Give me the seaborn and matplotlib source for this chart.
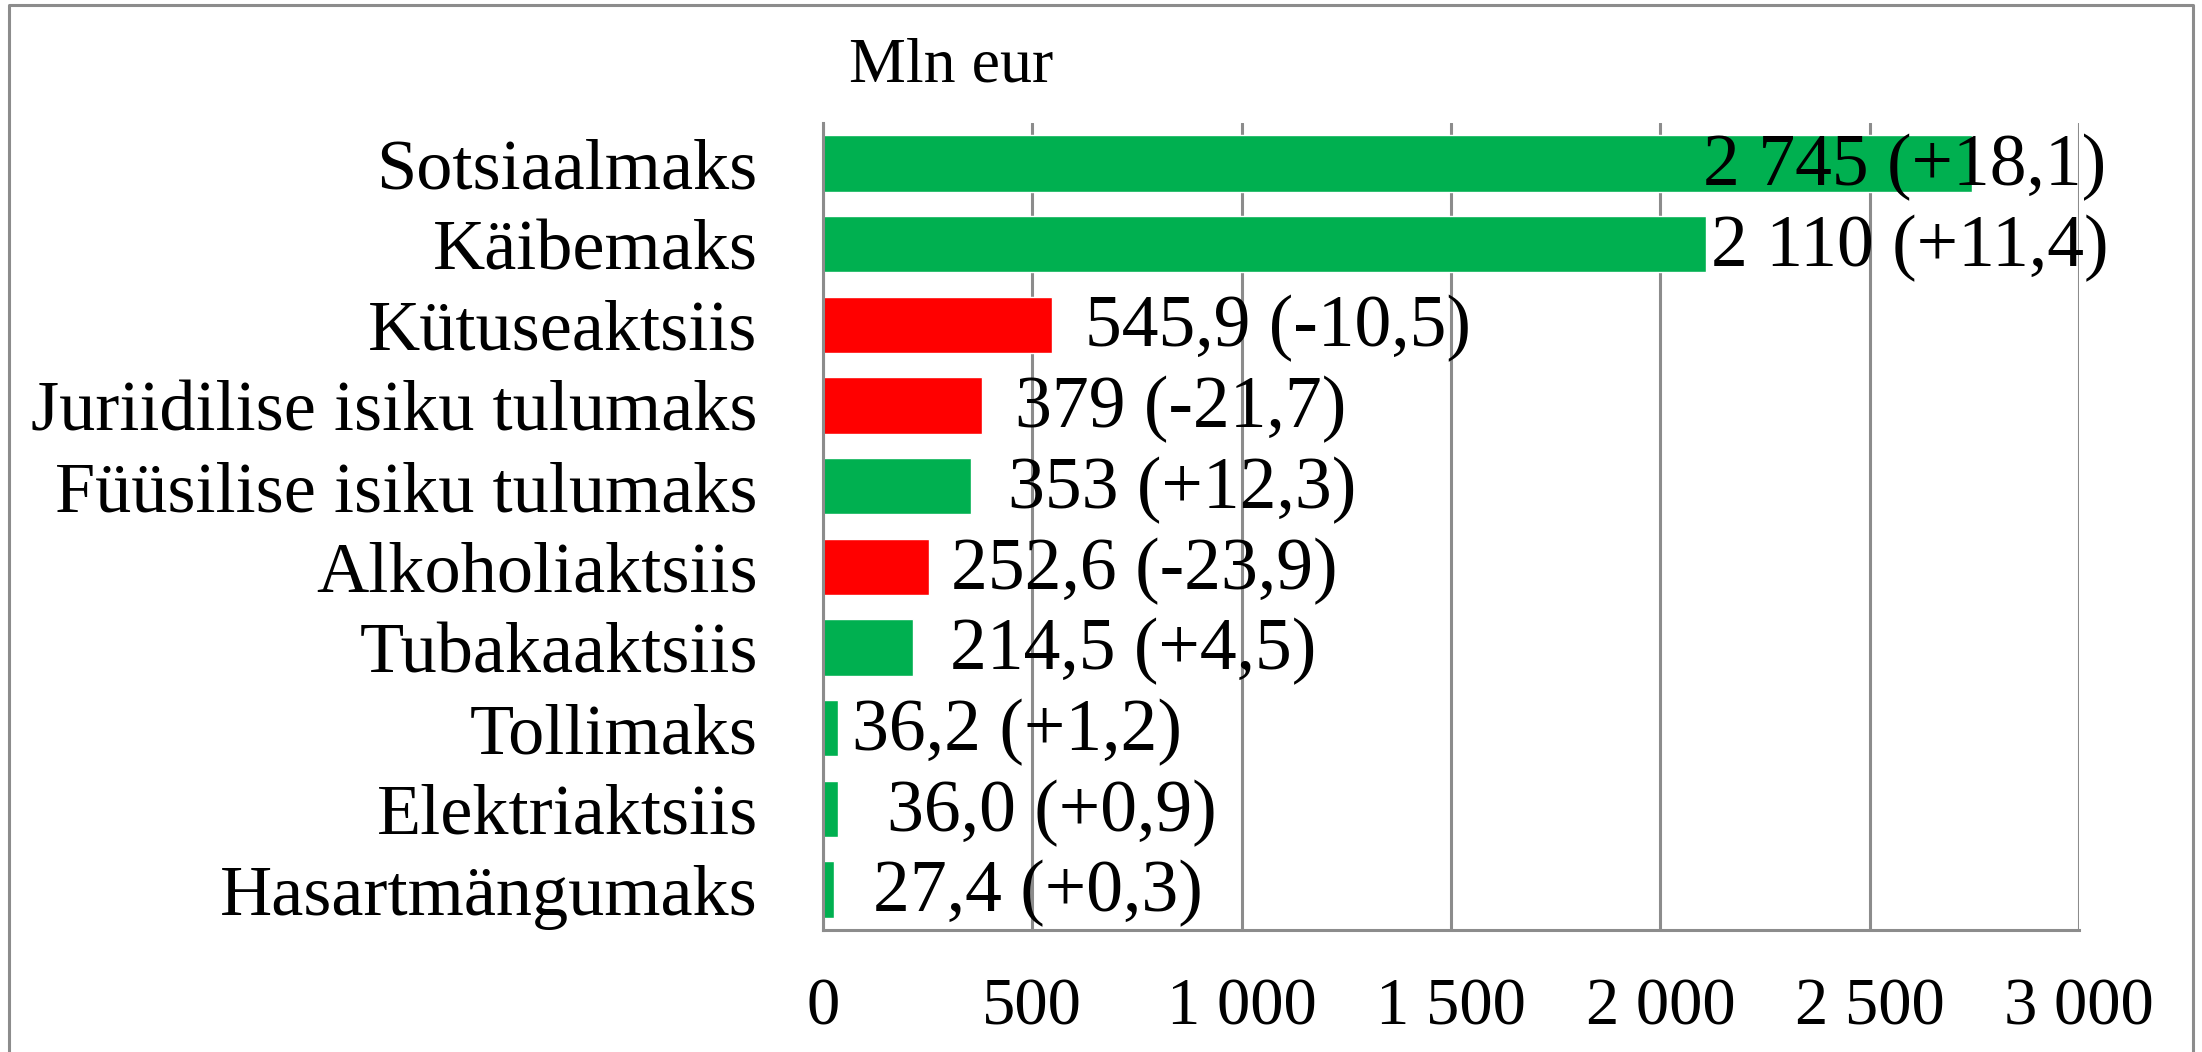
import numpy as np
import pandas as pd
import matplotlib
matplotlib.use("Agg")
import matplotlib.pyplot as plt
import seaborn as sns
from matplotlib.lines import Line2D
from matplotlib.ticker import FixedLocator

categories = ["Sotsiaalmaks", "Käibemaks", "Kütuseaktsiis", "Juriidilise isiku tulumaks",
              "Füüsilise isiku tulumaks", "Alkoholiaktsiis", "Tubakaaktsiis", "Tollimaks",
              "Elektriaktsiis", "Hasartmängumaks"]
values = [2745, 2110, 545.9, 379, 353, 252.6, 214.5, 36.2, 36.0, 27.4]
changes = [18.1, 11.4, -10.5, -21.7, 12.3, -23.9, 4.5, 1.2, 0.9, 0.3]
value_labels = ["2 745 (+18,1)", "2 110 (+11,4)", "545,9 (-10,5)", "379 (-21,7)",
                "353 (+12,3)", "252,6 (-23,9)", "214,5 (+4,5)", "36,2 (+1,2)",
                "36,0 (+0,9)", "27,4 (+0,3)"]
xticks = [0, 500, 1000, 1500, 2000, 2500, 3000]
xtick_labels = ["0", "500", "1 000", "1 500", "2 000", "2 500", "3 000"]
unit_label = "Mln eur"

# how far each value label sits from its bar end (points), as in the picture
label_dx = [-194, 3, 24, 24, 27, 16, 27, 10, 35, 28]

GREEN = "#00B050"
RED = "#FF0000"
GRAY = "#8C8C8C"

df = pd.DataFrame({"maks": categories, "value": values, "muutus": changes})
df["suund"] = np.where(df["muutus"] >= 0, "kasv", "langus")

sns.set_style("white")
plt.rcParams["font.family"] = ["Liberation Serif", "DejaVu Serif"]
plt.rcParams["text.color"] = "black"
plt.rcParams["xtick.labelcolor"] = "black"
plt.rcParams["ytick.labelcolor"] = "black"

W, H = 2202, 1052
fig = plt.figure(figsize=(W / 100, H / 100), dpi=100)
ax = fig.add_axes([823 / W, 1 - 930 / H, (2079 - 823) / W, (930 - 123) / H])

sns.barplot(data=df, x="value", y="maks", hue="suund",
            palette={"kasv": GREEN, "langus": RED}, orient="h", width=0.7,
            dodge=False, legend=False, saturation=1, ax=ax)

ax.set_xlim(0, 3000)
ax.set_ylim(9.5, -0.5)
ax.set_xticks(xticks, xtick_labels)
ax.set_xlabel("")
ax.set_ylabel("")

ax.grid(axis="x", color=GRAY, linewidth=2.2)
ax.set_axisbelow(True)
ax.tick_params(axis="x", direction="out", length=13, width=2.2, color=GRAY,
               labelsize=48, pad=21, labelcolor="black")
ax.yaxis.set_minor_locator(FixedLocator(np.arange(-0.5, 10, 1)))
ax.tick_params(axis="y", which="major", length=0, labelsize=52, pad=47, labelcolor="black")
ax.tick_params(axis="y", which="minor", direction="out", length=15, width=2.2, color=GRAY)

for s in ["top", "right"]:
    ax.spines[s].set_visible(False)
for s in ["left", "bottom"]:
    ax.spines[s].set_color(GRAY)
    ax.spines[s].set_linewidth(2.2)

for i, (v, txt, dx) in enumerate(zip(values, value_labels, label_dx)):
    ax.annotate(txt, xy=(v, i), xytext=(dx, -3), textcoords="offset points",
                ha="left", va="center", fontsize=53, color="black",
                annotation_clip=False)

fig.text(849 / W, 1 - 66 / H, unit_label, fontsize=46, ha="left", va="center",
         color="black")

# chart frame (bottom edge is cut off in the original)
fig.add_artist(Line2D([9 / W, 9 / W, 2193 / W, 2193 / W], [0, 1 - 5 / H, 1 - 5 / H, 0],
                      color=GRAY, linewidth=2.2, transform=fig.transFigure))

fig.savefig("out.png", dpi=100)
